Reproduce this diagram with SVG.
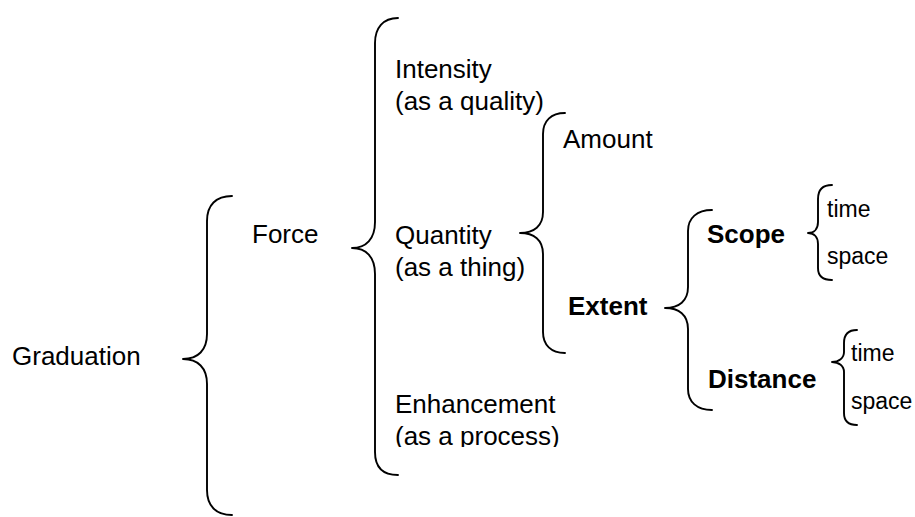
<svg xmlns="http://www.w3.org/2000/svg" width="915" height="517" viewBox="0 0 915 517">
  <style>
    .brace { fill: none; stroke: #000; stroke-width: 1.9; stroke-linecap: round; stroke-linejoin: round; }
    .t { font-family: "Liberation Sans", Arial, Helvetica, sans-serif; font-size: 26px; fill: #000; }
    .b { font-weight: bold; }
    .s { font-size: 23px; }
  </style>
  <defs>
    <clipPath id="enhClip">
      <rect x="380" y="370" width="200" height="77"/>
    </clipPath>
  </defs>
  <rect width="915" height="517" fill="#fff"/>

  <!-- curly braces joining each term to its sub-terms -->
  <g id="connectors">
    <path class="brace" d="M232,196 C216,196 207,205 207,221 L207,334 C207,350 198,359 183,359 C198,359 207,368 207,384 L207,490 C207,506 216,515 232,515"/>
    <path class="brace" d="M398,18 C383,18 375,28 375,43 L375,222 C375,239 366,248 352,248 C366,248 375,257 375,274 L375,452 C375,467 383,475 398,475"/>
    <path class="brace" d="M565,113 C551,113 543,121 543,134 L543,212 C543,226 534,233 520,233 C534,233 543,240 543,254 L543,332 C543,345 551,353 565,353"/>
    <path class="brace" d="M712,210 C697,210 688,218 688,231 L688,287 C688,301 679,308 665,308 C679,308 688,315 688,329 L688,389 C688,402 697,410 712,410"/>
    <path class="brace" d="M832,185 C823,185 818,190 818,199 L818,222 C818,229 814,233 808,233 C814,233 818,237 818,244 L818,268 C818,276 823,280 832,280"/>
    <path class="brace" d="M857,330 C848,330 844,335 844,343 L844,352 C844,358 839,362 832,362 C839,362 844,366 844,372 L844,413 C844,421 848,425 857,425"/>
  </g>

  <g id="graduation"><text class="t" x="12" y="365">Graduation</text></g>
  <g id="force"><text class="t" x="252" y="243">Force</text></g>
  <g id="intensity">
    <text class="t" x="395" y="78">Intensity</text>
    <text class="t" x="395" y="110">(as a quality)</text>
  </g>
  <g id="quantity">
    <text class="t" x="395" y="244">Quantity</text>
    <text class="t" x="395" y="276">(as a thing)</text>
  </g>
  <g id="enhancement" clip-path="url(#enhClip)">
    <text class="t" x="395" y="413">Enhancement</text>
    <text class="t" x="395" y="445">(as a process)</text>
  </g>
  <g id="amount"><text class="t" x="563" y="148">Amount</text></g>
  <g id="extent"><text class="t b" x="568" y="315">Extent</text></g>
  <g id="scope"><text class="t b" x="707" y="243">Scope</text></g>
  <g id="distance"><text class="t b" x="708" y="388">Distance</text></g>
  <g id="scope-time"><text class="t s" x="827" y="217">time</text></g>
  <g id="scope-space"><text class="t s" x="827" y="264">space</text></g>
  <g id="distance-time"><text class="t s" x="851" y="361">time</text></g>
  <g id="distance-space"><text class="t s" x="851" y="409">space</text></g>
</svg>
